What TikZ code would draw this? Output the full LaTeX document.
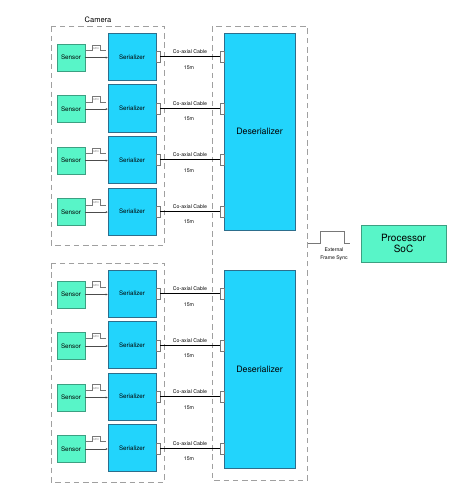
\documentclass[tikz,border=0pt]{standalone}
\usepackage{fontspec}
\setmainfont{TeX Gyre Heros}
\usetikzlibrary{arrows.meta}
\definecolor{serfill}{RGB}{34,212,252}
\definecolor{serdraw}{RGB}{45,110,140}
\definecolor{senfill}{RGB}{88,245,200}
\definecolor{sendraw}{RGB}{60,160,130}
\definecolor{dashgray}{RGB}{160,160,160}
\definecolor{linegray}{RGB}{120,120,120}
\begin{document}
\begin{tikzpicture}[x=1pt,y=-1pt,
  serbox/.style={draw=serdraw, fill=serfill, line width=0.6pt, minimum width=48pt, minimum height=47pt, inner sep=0pt, font=\fontsize{6.2}{7}\selectfont},
  senbox/.style={draw=sendraw, fill=senfill, line width=0.6pt, minimum width=28pt, minimum height=27pt, inner sep=0pt, font=\fontsize{6.3}{7}\selectfont},
  desbox/.style={draw=serdraw, fill=serfill, line width=0.6pt, minimum width=71pt, minimum height=197pt, inner sep=0pt, font=\fontsize{8.8}{10}\selectfont},
  socbox/.style={draw=sendraw, fill=senfill, line width=0.6pt, minimum width=85pt, minimum height=37pt, inner sep=0pt, align=center, font=\fontsize{10}{11.5}\selectfont},
  portbox/.style={draw=linegray, fill=white, line width=0.4pt, minimum width=4pt, minimum height=11pt, inner sep=0pt},
  camdash/.style={draw=dashgray, line width=0.8pt, dash pattern=on 5.5pt off 3.8pt},
  desdash/.style={draw=dashgray, line width=0.8pt, dash pattern=on 5.5pt off 3.8pt},
  cable/.style={draw=black, line width=1.2pt},
  lbl/.style={font=\fontsize{5.2}{6}\selectfont, inner sep=0pt},
  gpiolbl/.style={font=\fontsize{2.5}{3}\selectfont, inner sep=0pt, text=linegray},
  pulse/.style={draw=linegray, line width=0.5pt},
  sigarrow/.style={draw=black!70, line width=0.5pt, -{Stealth[length=2pt,width=2pt]}},
]
\useasboundingbox (0,0) rectangle (457,500);
% dashed groups
\draw[camdash] (51,26.5) rectangle (164.5,245.5);
\draw[camdash] (51,263) rectangle (164.5,482);
\draw[desdash] (212,26.5) rectangle (307.5,480);
\node[font=\fontsize{7.5}{8}\selectfont, inner sep=0pt] (camlbl) at (98,20) {Camera};
% deserializers
\node[desbox] (des1) at (259.5,131.5) {Deserializer};
\node[desbox, minimum height=198pt] (des2) at (259.5,369) {Deserializer};
% rows
\foreach \i/\y in {1/56.8,2/108.3,3/159.8,4/211.3,5/293.7,6/345.2,7/396.7,8/448.2} {
  \node[serbox] (ser\i) at (132,\y) {Serializer};
  \node[senbox] (sen\i) at (71,\y+0.8) {Sensor};
  \node[portbox] (ps\i) at (158,\y) {};
  \node[portbox] (pd\i) at (222,\y) {};
  \draw[cable] (ps\i.east) -- (pd\i.west);
  \node[lbl] (cc\i) at (190,\y-5) {Co-axial Cable};
  \node[lbl] (len\i) at (189,\y+10.5) {15m};
  \draw[sigarrow] (sen\i.east) -- (ser\i.west |- sen\i.east);
  \draw[pulse] (86,\y-6.5) -- (92,\y-6.5) -- (92,\y-12) -- (100,\y-12) -- (100,\y-6.5) -- (105.5,\y-6.5);
  \node[gpiolbl] (gp\i) at (96,\y-8.3) {GPIO};
}
% processor
\node[socbox] (soc) at (403.5,243.5) {Processor\\SoC};
\coordinate (fsA) at (307.5,243.5);
\coordinate (fsB) at (350,243.5);
\draw[pulse, line width=0.6pt] (fsA) -- (320,243.5) -- (320,231.7) -- (344.5,231.7) -- (344.5,243.5) -- (fsB);
\node[font=\fontsize{5.1}{6}\selectfont, inner sep=0pt] (ext1) at (334,250) {External};
\node[font=\fontsize{5.1}{6}\selectfont, inner sep=0pt] (ext2) at (334,258) {Frame Sync};
\end{tikzpicture}
\end{document}
